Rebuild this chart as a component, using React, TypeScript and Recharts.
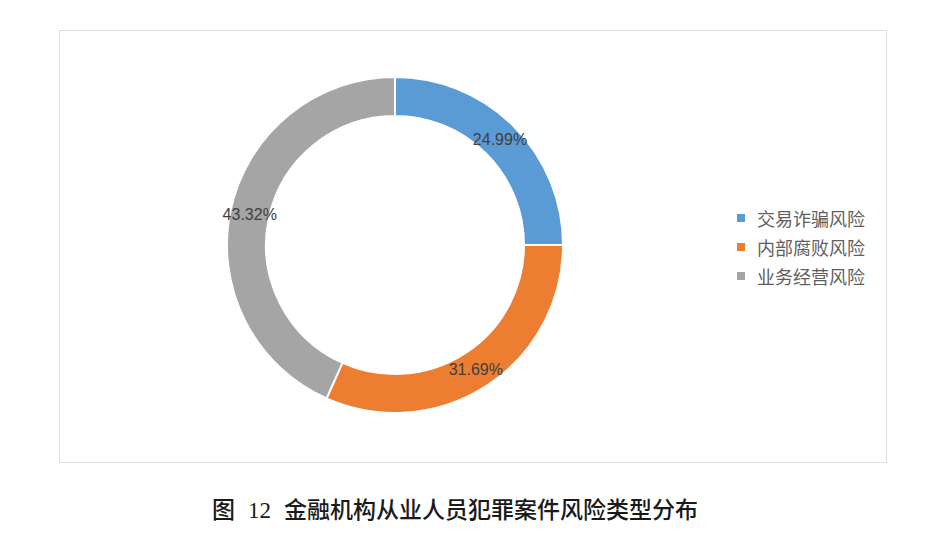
import { PieChart, Pie, Cell } from 'recharts';

const categories = ['交易诈骗风险', '内部腐败风险', '业务经营风险'];
const shares = [24.99, 31.69, 43.32];
const colors = ['#5B9BD5', '#ED7D31', '#A5A5A5'];
const figureNo = '图';
const figureNum = '12';
const captionText = '金融机构从业人员犯罪案件风险类型分布';

const data = categories.map((name, i) => ({ name, value: shares[i] }));

const RADIAN = Math.PI / 180;

// Excel-style data label sitting in the middle of the ring
function renderLabel(props: any) {
  const { cx, cy, midAngle, innerRadius, outerRadius, value } = props;
  const r = (innerRadius + outerRadius) / 2;
  const x = cx + r * Math.cos(-midAngle * RADIAN);
  const y = cy + r * Math.sin(-midAngle * RADIAN);
  return (
    <text
      x={x}
      y={y}
      fill="#404040"
      fontSize={16}
      fontFamily="'Liberation Sans', Arial, sans-serif"
      textAnchor="middle"
      dominantBaseline="central"
    >
      {value.toFixed(2)}%
    </text>
  );
}

export default function App() {
  return (
    <div
      style={{
        position: 'fixed',
        left: 0,
        top: 0,
        width: 940,
        height: 538,
        background: '#fff',
      }}
    >
      <div
        style={{
          position: 'absolute',
          left: 59,
          top: 30,
          width: 826,
          height: 431,
          border: '1px solid #dedede',
        }}
      />
      <div style={{ position: 'absolute', left: 0, top: 0 }}>
        <PieChart
          width={940}
          height={480}
          margin={{ top: 0, right: 0, bottom: 0, left: 0 }}
        >
          <Pie
            data={data}
            dataKey="value"
            nameKey="name"
            cx={395}
            cy={245}
            innerRadius={129}
            outerRadius={168}
            startAngle={90}
            endAngle={-270}
            stroke="#fff"
            strokeWidth={2}
            label={renderLabel}
            labelLine={false}
            isAnimationActive={false}
          >
            {data.map((d, i) => (
              <Cell key={d.name} fill={colors[i]} />
            ))}
          </Pie>
        </PieChart>
      </div>
      {/* legend */}
      <div style={{ position: 'absolute', left: 737, top: 203 }}>
        {categories.map((name, i) => (
          <div
            key={name}
            style={{ display: 'flex', alignItems: 'center', height: 29 }}
          >
            <span
              style={{
                width: 8,
                height: 8,
                background: colors[i],
                marginRight: 12,
                display: 'inline-block',
              }}
            />
            <span
              style={{
                fontFamily: "'Noto Sans CJK SC', sans-serif",
                fontSize: 18,
                color: '#5f5f5f',
              }}
            >
              {name}
            </span>
          </div>
        ))}
      </div>
      {/* caption */}
      <div
        style={{
          position: 'absolute',
          left: 212,
          top: 493,
          display: 'flex',
          alignItems: 'baseline',
          fontFamily: "'Noto Sans CJK SC', sans-serif",
          fontSize: 23,
          fontWeight: 500,
          color: '#1a1a1a',
          whiteSpace: 'pre',
          lineHeight: '30px',
        }}
      >
        <span>{figureNo}</span>
        <span
          style={{
            fontFamily: "'Liberation Serif', serif",
            marginLeft: 13,
            marginRight: 13,
          }}
        >
          {figureNum}
        </span>
        <span>{captionText}</span>
      </div>
    </div>
  );
}
